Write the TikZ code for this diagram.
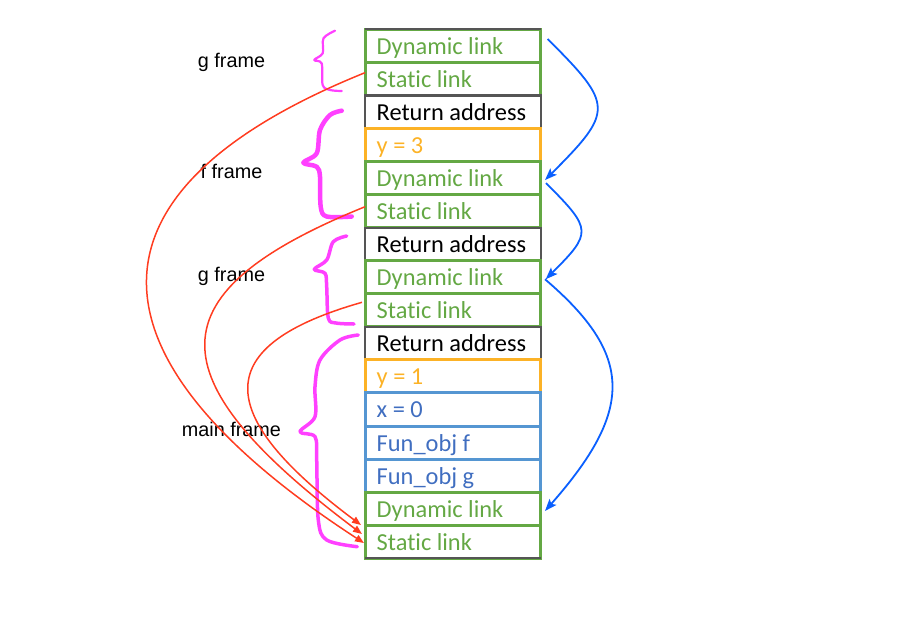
\documentclass[tikz,border=0pt]{standalone}
\usepackage{fontspec}
\setmainfont{Liberation Sans}
\newfontfamily\cellfont[Ligatures=NoCommon]{Carlito}
\usetikzlibrary{arrows.meta}
\definecolor{grn}{RGB}{100,168,68}
\definecolor{org}{RGB}{252,178,38}
\definecolor{bbord}{RGB}{85,150,210}
\definecolor{btxt}{RGB}{64,110,192}
\definecolor{gry}{RGB}{85,85,85}
\definecolor{mag}{RGB}{255,64,255}
\definecolor{redc}{RGB}{255,60,32}
\definecolor{bluec}{RGB}{10,95,255}
\newcommand{\stl}{Stat\kern0pt ic link}
\begin{document}
\begin{tikzpicture}[x=1pt,y=-1pt,
  cell/.style={draw, minimum width=175.7pt, minimum height=33.06pt, inner sep=0pt, outer sep=0pt},
  celltext/.style={font=\cellfont\fontsize{24.4}{28}\selectfont, anchor=base west, inner sep=0pt},
  lbl/.style={font=\fontsize{19.8}{24}\selectfont, anchor=base, inner sep=0pt},
  brace/.style={draw=mag, line cap=round, line join=round},
  sl/.style={draw=redc, line width=1.5pt, -{Triangle[length=9pt,width=7pt]}},
  dl/.style={draw=bluec, line width=1.8pt, -{Stealth[length=12pt,width=9pt,inset=2.5pt]}}]
\useasboundingbox (0,0) rectangle (914,624);
\foreach \i/\t/\bc/\tc/\lw in {
  1/Dynamic link/grn/grn/3, 2/\stl/grn/grn/3,
  3/Return address/gry/black/2.2, 4/y = 3/org/org/3,
  5/Dynamic link/grn/grn/3, 6/\stl/grn/grn/3,
  7/Return address/gry/black/2.2, 8/Dynamic link/grn/grn/3,
  9/\stl/grn/grn/3, 10/Return address/gry/black/2.2,
  11/y = 1/org/org/3, 12/x = 0/bbord/btxt/3,
  13/Fun\_obj f/bbord/btxt/3, 14/Fun\_obj g/bbord/btxt/3,
  15/Dynamic link/grn/grn/3, 16/\stl/grn/grn/3}{
  \node[cell, draw=\bc, line width=\lw pt] (c\i) at (452.85, {29.3+(\i-0.5)*33.06}) {};
  \node[celltext, text=\tc] (t\i) at (376.5, {29.3+(\i-1)*33.06+25}) {\t};
}
\draw[gry, line width=2pt] (c1.north west) -- (c1.north east);
\draw[gry, line width=2pt] (c16.south west) -- (c16.south east);

% frame labels
\node[lbl] (lg1) at (231.5,67.3) {g frame};
\node[lbl] (lf) at (231.5,178.3) {f frame};
\node[lbl] (lg2) at (231.5,281.7) {g frame};
\node[lbl] (lm) at (231.5,436.7) {main frame};

% braces
\draw[brace, line width=2.2pt] plot[smooth, tension=0.55] coordinates {(335,30.7) (323.5,38.3) (322.7,53.3) (314.3,60) (321.7,63.5) (322.7,85) (330,90) (341.7,91)};
\draw[brace, line width=4.5pt] plot[smooth, tension=0.55] coordinates {(341.7,110.7) (330,115) (320,130) (316.7,153.3) (303.3,162.7) (316.7,166.7) (320,176.7) (320.7,206.7) (326.7,216.5) (351.7,216.5)};
\draw[brace, line width=3.5pt] plot[smooth, tension=0.55] coordinates {(346.7,236) (333.3,241.7) (326.7,260) (314.3,269.3) (325,273.3) (326.7,286.7) (328.3,318) (336,323) (354,324)};
\draw[brace, line width=3.5pt] plot[smooth, tension=0.55] coordinates {(358.3,335) (340,340) (320,360) (315,386.7) (315,416.7) (300,431.7) (315,436.7) (316.7,460) (318.3,520) (326.7,540) (357.3,546.7)};

% static links
\draw[sl] ([yshift=6.2pt]c2.west) .. controls +(-290,117) and +(-289,-188) .. ([xshift=-1pt,yshift=-1.3pt]c16.west);
\draw[sl] ([yshift=4.4pt]c6.west) .. controls +(-212,86) and +(-209,-157) .. ([xshift=-3pt,yshift=7.7pt]c16.west);
\draw[sl] ([xshift=-3pt,yshift=8pt]c9.west) .. controls +(-151,43) and +(-150,-112) .. ([xshift=-4pt,yshift=16.7pt]c16.west);

% dynamic links
\draw[dl] ([xshift=7pt,yshift=6.8pt]c1.east) .. controls +(66,66) and +(69,-69) .. ([xshift=4.3pt,yshift=-2pt]c5.east);
\draw[dl] ([xshift=5.3pt,yshift=-5pt]c5.east) .. controls +(46.5,46.5) and +(46.5,-46.5) .. ([xshift=5pt,yshift=-2pt]c8.east);
\draw[dl] ([xshift=4.3pt,yshift=-2pt]c8.east) .. controls +(89,76) and +(89,-101) .. ([xshift=4.3pt,yshift=-2.3pt]c15.east);
\end{tikzpicture}
\end{document}
